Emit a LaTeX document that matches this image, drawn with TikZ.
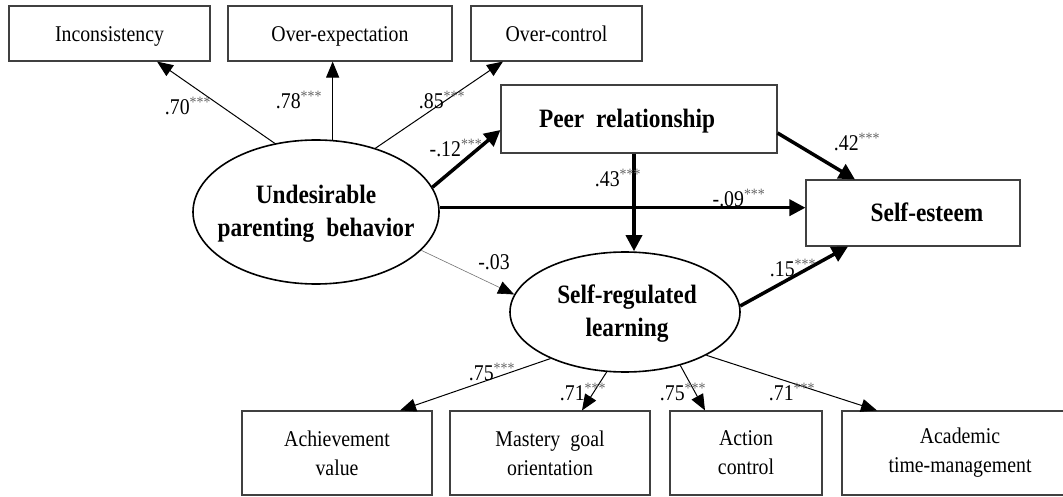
\documentclass[tikz,border=0pt]{standalone}
\usepackage{fontspec}
\setmainfont{Liberation Serif}[FakeStretch=0.88]
\usetikzlibrary{arrows.meta,shapes.geometric,calc}
\newcommand{\sig}{\textsuperscript{\textcolor{black!60}{***}}}
\tikzset{
  box/.style={draw=black!75, line width=1.1pt, rectangle, inner sep=0pt, align=center,
              font=\fontsize{22.5}{29}\selectfont},
  onebox/.style={box, text height=20pt, text depth=3pt},
  bbox/.style={box, font=\fontsize{26.5}{33}\selectfont\bfseries, text height=22pt, text depth=4pt},
  latent/.style={draw=black, line width=1.6pt, ellipse, inner sep=0pt},
  ltext/.style={align=center, inner sep=0pt, font=\fontsize{26.5}{33}\selectfont\bfseries},
  thinarr/.style={line width=1pt, -{Triangle[length=16pt,width=13pt]}},
  thickarr/.style={line width=3.5pt, -{Triangle[length=16pt,width=16pt]}},
  faintarr/.style={line width=0.6pt, draw=black!55, -{Triangle[length=16pt,width=13pt,color=black]}},
  coef/.style={inner sep=0pt, font=\fontsize{22.5}{24}\selectfont},
}
\begin{document}
\begin{tikzpicture}[x=1pt,y=-1pt]
\useasboundingbox (0,0) rectangle (1063,497);
% indicator boxes (top)
\node[onebox, minimum width=201pt, minimum height=55pt] (inc) at (109.5,33.5) {Inconsistency};
\node[onebox, minimum width=224pt, minimum height=55pt] (oe) at (340,33.5) {Over-expectation};
\node[onebox, minimum width=171pt, minimum height=55pt] (oc) at (556.5,33.5) {Over-control};
% main constructs
\node[bbox, minimum width=276pt, minimum height=68pt] (pr) at (639,119) {Peer\hspace{0.45em}relationship\hspace*{24pt}};
\node[bbox, minimum width=214pt, minimum height=66pt] (se) at (913,213) {\hspace*{28pt}Self-esteem};
\node[latent, minimum width=246pt, minimum height=144pt] (ud) at (316,212) {};
\node[ltext] (udt) at (316,214) {Undesirable\\parenting\hspace{0.45em}behavior};
\node[latent, minimum width=230pt, minimum height=120pt] (srl) at (625,312) {};
\node[ltext] (srlt) at (627,314) {Self-regulated\\learning};
% indicator boxes (bottom)
\node[box, minimum width=190pt, minimum height=84pt] (ach) at (337,453) {Achievement\\value};
\node[box, minimum width=200pt, minimum height=84pt] (mas) at (550,453) {Mastery\hspace{0.45em}goal\\orientation};
\node[box, minimum width=152pt, minimum height=84pt] (act) at (746,453) {Action\\control};
\node[box, minimum width=236pt, minimum height=84pt] (aca) at (960,453) {Academic\\time-management};
% measurement paths
\draw[thinarr] (ud.121) -- ([xshift=47.5pt]inc.south);
\draw[thinarr] (ud.77) -- (ud.77 |- oe.south);
\draw[thinarr] (ud.47) -- ([xshift=-53.5pt]oc.south);
\draw[thinarr] (srl.212) -- ([xshift=63pt]ach.north);
\draw[thinarr] (srl.253) -- ([xshift=32pt]mas.north);
\draw[thinarr] (srl.316) -- ([xshift=-41pt]act.north);
\draw[thinarr] (srl.332) -- ([xshift=-83pt]aca.north);
% structural paths
\draw[thickarr] (ud.12) -- ([yshift=-11pt]pr.west);
\draw[thickarr] (ud.2) -- (ud.2 -| se.west);
\draw[faintarr] (ud.340) -- (srl.171);
\draw[thickarr] ([xshift=-5pt]pr.south) -- ([xshift=-5pt]pr.south |- srl.north);
\draw[thickarr] ([yshift=-14pt]pr.east) -- ([xshift=-58pt]se.north);
\draw[thickarr] (srl.3) -- ([xshift=-65pt]se.south);
% coefficients
\node[coef] (c1) at (188,106) {.70\sig};
\node[coef] (c2) at (299,100) {.78\sig};
\node[coef] (c3) at (442,100) {.85\sig};
\node[coef] (c4) at (456,148) {-.12\sig};
\node[coef] (c5) at (618,178) {.43\sig};
\node[coef] (c6) at (739,198) {-.09\sig};
\node[coef] (c7) at (857,142) {.42\sig};
\node[coef] (c8) at (793,268) {.15\sig};
\node[coef] (c9) at (494,262) {-.03};
\node[coef] (c10) at (492,372) {.75\sig};
\node[coef] (c11) at (583,392) {.71\sig};
\node[coef] (c12) at (683,392) {.75\sig};
\node[coef] (c13) at (792,392) {.71\sig};
\end{tikzpicture}
\end{document}
